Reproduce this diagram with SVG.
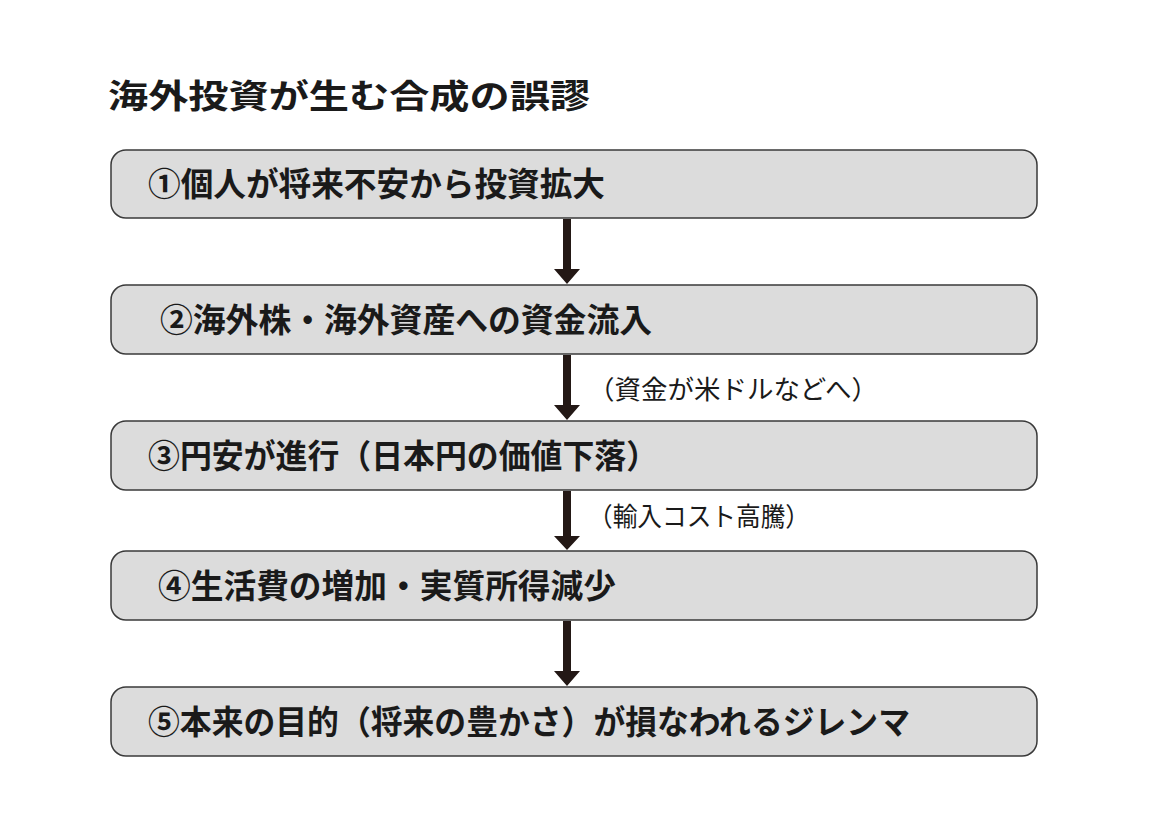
<svg xmlns="http://www.w3.org/2000/svg" width="1151" height="818" viewBox="0 0 1151 818">
<style>
.b{fill:#dcdcdc;stroke:#3a3a3a;stroke-width:1.5}
.t{font-family:"Noto Sans CJK JP",sans-serif;font-weight:bold;font-size:33px;fill:#1a1a1a}
.l{font-family:"Noto Sans CJK JP",sans-serif;font-size:26px;fill:#1a1a1a}
.a{fill:#231815}
</style>
<rect width="1151" height="818" fill="#fff"/>
<text x="108" y="108" class="t" font-size="35" textLength="482" lengthAdjust="spacingAndGlyphs">海外投資が生む合成の誤謬</text>
<g id="n1"><rect class="b" x="111" y="150" width="926" height="68" rx="15"/><text class="t" x="148" y="196" textLength="457" lengthAdjust="spacingAndGlyphs">①個人が将来不安から投資拡大</text></g>
<g id="n2"><rect class="b" x="111" y="285" width="926" height="69" rx="15"/><text class="t" x="160" y="332" textLength="492" lengthAdjust="spacingAndGlyphs">②海外株・海外資産への資金流入</text></g>
<g id="n3"><rect class="b" x="111" y="421" width="926" height="69" rx="15"/><text class="t" x="148" y="468" textLength="510" lengthAdjust="spacingAndGlyphs">③円安が進行（日本円の価値下落）</text></g>
<g id="n4"><rect class="b" x="111" y="551" width="926" height="69" rx="15"/><text class="t" x="158" y="598" textLength="458" lengthAdjust="spacingAndGlyphs">④生活費の増加・実質所得減少</text></g>
<g id="n5"><rect class="b" x="111" y="687" width="926" height="69" rx="15"/><text class="t" x="148" y="734" textLength="762" lengthAdjust="spacingAndGlyphs">⑤本来の目的（将来の豊かさ）が損なわれるジレンマ</text></g>
<g id="connectors">
<path class="a" d="M563 219h8v50h9l-13 15l-13-15h9z"/>
<path class="a" d="M563 355h8v50h9l-13 15l-13-15h9z"/>
<path class="a" d="M563 491h8v45h9l-13 14l-13-14h9z"/>
<path class="a" d="M563 621h8v50h9l-13 15l-13-15h9z"/>
<text class="l" x="588" y="399" textLength="290" lengthAdjust="spacingAndGlyphs">（資金が米ドルなどへ）</text>
<text class="l" x="588" y="526" textLength="222" lengthAdjust="spacingAndGlyphs">（輸入コスト高騰）</text>
</g>
</svg>
